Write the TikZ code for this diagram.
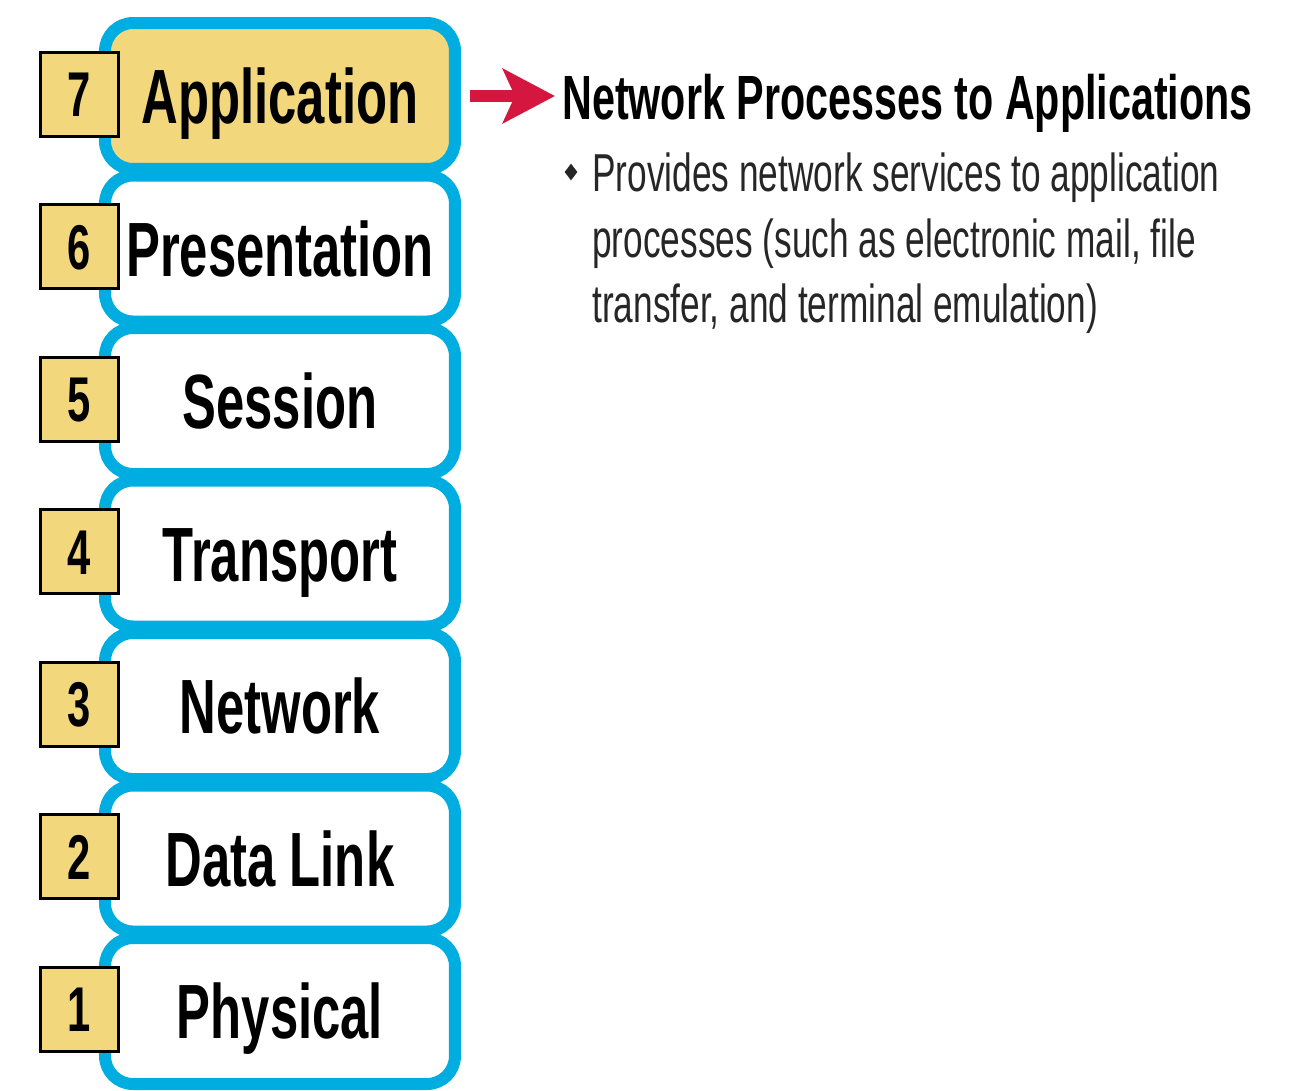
\documentclass[tikz,border=0pt]{standalone}
\usepackage{fontspec}
\setmainfont{Liberation Sans}[FakeStretch=0.66]
\usetikzlibrary{arrows.meta,shapes.geometric}

\definecolor{osicyan}{HTML}{00ADE0}
\definecolor{appgold}{HTML}{F2D77C}
\definecolor{arrowred}{HTML}{D5173F}

\tikzset{
  layer/.style={draw=osicyan, line width=0.24cm, rounded corners=0.56cm,
    minimum width=7cm, minimum height=2.92cm, inner sep=0pt,
    font=\fontsize{43.8}{50}\selectfont\bfseries, text height=31.4pt, text depth=0pt},
  numbox/.style={draw=black, line width=0.06cm, fill=appgold,
    minimum width=1.56cm, minimum height=1.68cm, inner sep=0pt,
    font=\fontsize{36}{40}\selectfont\bfseries, text height=25.8pt, text depth=0pt},
  redarrow/.style={draw=arrowred, line width=0.24cm,
    -{Stealth[length=1.04cm, width=1.08cm, inset=0.24cm]},
    shorten <=0.18cm, shorten >=0.14cm},
  heading/.style={inner sep=0pt, font=\fontsize{35.6}{40}\selectfont\bfseries},
  desc/.style={inner sep=0pt, align=left, text=black!85,
    font=\fontsize{30.4}{37}\selectfont},
  bulletmark/.style={diamond, fill=black!85, inner sep=0pt,
    minimum width=0.26cm, minimum height=0.34cm}
}

\begin{document}
\begin{tikzpicture}[x=0.02cm, y=-0.02cm]
  \useasboundingbox (0,0) rectangle (1300,1090);

  % the seven layers, top to bottom
  \foreach \n/\name/\col [count=\i from 0] in
      {7/Application/appgold, 6/Presentation/white, 5/Session/white,
       4/Transport/white, 3/Network/white, 2/Data Link/white, 1/Physical/white}
  {
    \node[layer, fill=\col] (l\n) at (280, {96+152.5*\i}) {\name};
    \node[numbox] (n\n) at ([xshift=-0.4cm, yshift=0.04cm]l\n.west) {\n};
  }

  % description of layer 7
  \node[heading, anchor=base west] (head) at (562,119) {Network Processes to Applications};
  \draw[redarrow] (l7.east) -- (l7.east -| head.west);

  \node[bulletmark] (dot) at (571,172) {};
  \node[desc, anchor=base west] (desc) at (592,322)
    {Provides network services to application\\
     processes (such as electronic mail, file\\
     transfer, and terminal emulation)};
\end{tikzpicture}
\end{document}
